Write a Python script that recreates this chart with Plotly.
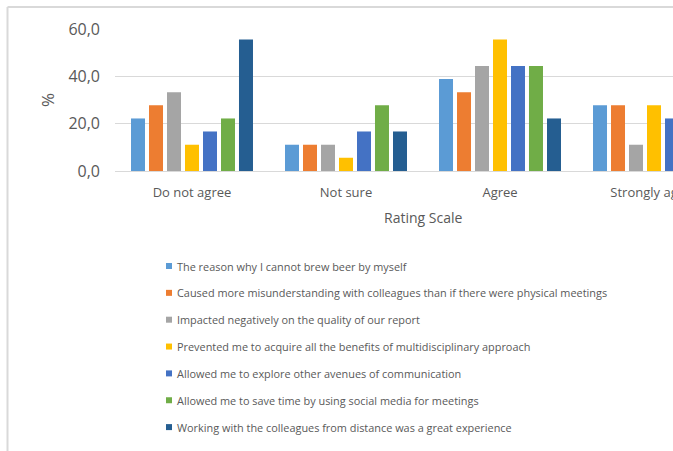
import plotly.graph_objects as go

categories = ["Do not agree", "Not sure", "Agree", "Strongly agree"]
series_names = [
    "The reason why I cannot brew beer by myself",
    "Caused more misunderstanding with colleagues than if there were physical meetings",
    "Impacted negatively on the quality of our report",
    "Prevented me to acquire all the benefits of multidisciplinary approach",
    "Allowed me to explore other avenues of communication",
    "Allowed me to save time by using social media for meetings",
    "Working with the colleagues from distance was a great experience",
]
s1 = [22.2, 11.1, 38.9, 27.8]
s2 = [27.8, 11.1, 33.3, 27.8]
s3 = [33.3, 11.1, 44.4, 11.1]
s4 = [11.1, 5.6, 55.6, 27.8]
s5 = [16.7, 16.7, 44.4, 22.2]
s6 = [22.2, 27.8, 44.4, 5.6]
s7 = [55.6, 16.7, 22.2, 5.6]
series_values = [s1, s2, s3, s4, s5, s6, s7]
colors = ["#5B9BD5", "#ED7D31", "#A5A5A5", "#FFC000", "#4472C4", "#70AD47", "#255E91"]
y_ticks = [0, 20, 40, 60]
y_tick_labels = ["0,0", "20,0", "40,0", "60,0"]

W, H = 673, 451
L, R, T, B = 115, 0, 29, 280
pw = W - L - R
ph = H - T - B
cat_px = 154.0
FONT = "Open Sans"
GRAY = "#595959"

def px_x(x):
    return (x - L) / pw

def px_y(y):
    return (H - B - y) / ph

fig = go.Figure()
for name, vals, c in zip(series_names, series_values, colors):
    fig.add_trace(go.Bar(x=categories, y=vals, name=name, marker_color=c,
                         marker_line_width=0, showlegend=False))

fig.update_layout(
    width=W, height=H,
    margin=dict(l=L, r=R, t=T, b=B, pad=0, autoexpand=False),
    paper_bgcolor="white", plot_bgcolor="white",
    barmode="group", bargap=0.182, bargroupgap=0.222,
    font=dict(family=FONT, color=GRAY),
    xaxis=dict(range=[-0.5, -0.5 + pw / cat_px], showgrid=False, zeroline=False,
               showline=False, ticks="", tickfont=dict(size=13, color=GRAY),
               ticklabelstandoff=12, fixedrange=True, automargin=False),
    yaxis=dict(range=[0, 60], tickvals=y_ticks, ticktext=y_tick_labels,
               showgrid=True, gridcolor="#D9D9D9", gridwidth=1.3,
               zeroline=True, zerolinecolor="#D9D9D9", zerolinewidth=1.3,
               showline=False, ticks="", tickfont=dict(size=16, color=GRAY),
               ticklabelstandoff=14, fixedrange=True, automargin=False),
    showlegend=False,
)

shapes = []
annotations = []
# chart border (left and top)
shapes.append(dict(type="line", xref="paper", yref="paper",
                   x0=px_x(7.5), x1=px_x(7.5), y0=px_y(7), y1=px_y(H + 5),
                   line=dict(color="#D9D9D9", width=2)))
shapes.append(dict(type="line", xref="paper", yref="paper",
                   x0=px_x(7.5), x1=px_x(W + 5), y0=px_y(7), y1=px_y(7),
                   line=dict(color="#D9D9D9", width=2)))

# axis titles
annotations.append(dict(text="%", xref="paper", yref="paper", x=px_x(47), y=px_y(100),
                        showarrow=False, textangle=-90, font=dict(size=17, color=GRAY),
                        xanchor="center", yanchor="middle"))
annotations.append(dict(text="Rating Scale", xref="paper", yref="paper",
                        x=px_x(L + 4 * cat_px / 2), y=px_y(217),
                        showarrow=False, font=dict(size=14, color=GRAY),
                        xanchor="center", yanchor="middle"))

# legend
for i, (name, c) in enumerate(zip(series_names, colors)):
    cy = 266 + 26.85 * i
    shapes.append(dict(type="rect", xref="paper", yref="paper",
                       x0=px_x(166), x1=px_x(172), y0=px_y(cy - 3), y1=px_y(cy + 3),
                       fillcolor=c, line=dict(width=0)))
    annotations.append(dict(text=name, xref="paper", yref="paper",
                            x=px_x(175), y=px_y(cy), showarrow=False,
                            xanchor="left", yanchor="middle",
                            font=dict(size=10.9, color=GRAY)))

fig.update_layout(shapes=shapes, annotations=annotations)
fig.write_html("out.html")
